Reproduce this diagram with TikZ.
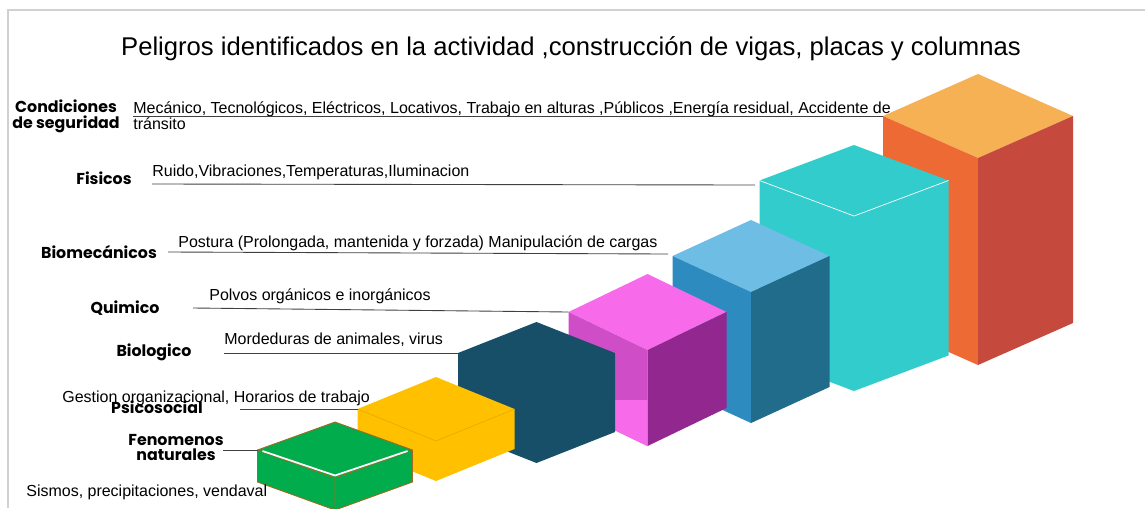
\documentclass[tikz,border=0pt]{standalone}
\usepackage{fontspec}
\usetikzlibrary{calc}
\setmainfont{Liberation Sans}
\newfontfamily\labfont{Poppins}

\definecolor{ortop}{HTML}{F7B155}
\definecolor{orleft}{HTML}{EE6A35}
\definecolor{orright}{HTML}{C5493D}
\definecolor{cyanbox}{HTML}{33CCCC}
\definecolor{bltop}{HTML}{6EBDE4}
\definecolor{blleft}{HTML}{2E8BC0}
\definecolor{blright}{HTML}{216B8B}
\definecolor{pktop}{HTML}{F76BEB}
\definecolor{pkleft}{HTML}{D04DC8}
\definecolor{pkright}{HTML}{92278F}
\definecolor{tealbox}{HTML}{174F69}
\definecolor{yelbox}{HTML}{FFC000}
\definecolor{grbox}{HTML}{00AC4C}
\definecolor{grline}{HTML}{9E6B1F}

% corners of an isometric box: name, centre x, apex y, half width, slope drop, height
\newcommand{\isocoords}[6]{%
  \coordinate (#1-T) at (#2,#3);
  \coordinate (#1-L) at (#2-#4,#3+#5);
  \coordinate (#1-R) at (#2+#4,#3+#5);
  \coordinate (#1-F) at (#2,#3+2*#5);
  \coordinate (#1-Lb) at (#2-#4,#3+#5+#6);
  \coordinate (#1-Rb) at (#2+#4,#3+#5+#6);
  \coordinate (#1-Fb) at (#2,#3+2*#5+#6);
}
% faces: name, top, left, right
\newcommand{\isobox}[4]{%
  \fill[#2] (#1-L) -- (#1-T) -- (#1-R) -- (#1-F) -- cycle;
  \fill[#3] (#1-L) -- (#1-F) -- (#1-Fb) -- (#1-Lb) -- cycle;
  \fill[#4] (#1-F) -- (#1-R) -- (#1-Rb) -- (#1-Fb) -- cycle;
}
% one colour box: name, colour
\newcommand{\isosolid}[2]{%
  \fill[#2] (#1-L) -- (#1-T) -- (#1-R) -- (#1-Rb) -- (#1-Fb) -- (#1-Lb) -- cycle;
}

\tikzset{
  hazard/.style={font=\labfont\bfseries\fontsize{9}{9}\selectfont, align=center, inner sep=0pt},
  detail/.style={font=\fontsize{9.1}{9}\selectfont, anchor=west, align=left, inner sep=0pt},
  leader/.style={draw=black!75, line width=0.5pt},
}

\begin{document}
\begin{tikzpicture}[x=0.02cm, y=-0.02cm]
    \useasboundingbox (0,0) rectangle (1145,508);
    \draw[black!18, line width=0.6pt] (8,508) -- (8,10) -- (1145,10); %frame

    \node[font=\fontsize{14.6}{16}\selectfont] (title) at (571,49) {Peligros identificados en la actividad ,construcción de vigas, placas y columnas};

    %boxes
    \isocoords{seg}{978}{74}{95}{42}{207}
    \isocoords{fis}{854}{145}{94.5}{35.5}{175}
    \isocoords{bio}{751}{220}{78.5}{36}{131}
    \isocoords{qui}{647.5}{274}{79}{38}{96}
    \isocoords{blg}{536.5}{322}{78.5}{31}{79}
    \isocoords{psi}{436}{377}{78.5}{32}{40}
    \isocoords{nat}{335}{422}{77.5}{28}{32}

    \isobox{seg}{ortop}{orleft}{orright}
    \isosolid{fis}{cyanbox}
    \draw[white, line width=0.4pt] (fis-L) -- (fis-F) -- (fis-R);
    \isobox{bio}{bltop}{blleft}{blright}
    \isobox{qui}{pktop}{pkleft}{pkright}
    \begin{scope}
        \clip (0,400) rectangle (1145,508);
        \fill[pktop] (qui-L) -- (qui-F) -- (qui-Fb) -- (qui-Lb) -- cycle;
    \end{scope}
    \isosolid{blg}{tealbox}
    \isosolid{psi}{yelbox}
    \draw[yelbox!88!black, line width=0.3pt] (psi-L) -- (psi-F) -- (psi-R);
    \isosolid{nat}{grbox}
    \draw[grline, line width=0.5pt] (nat-L) -- (nat-T) -- (nat-R) -- (nat-Rb) -- (nat-Fb) -- (nat-Lb) -- cycle;
    \draw[grline, line width=0.5pt] (nat-L) -- (nat-F) -- (nat-R) (nat-F) -- (nat-Fb);
    \draw[white, line width=1pt] ($(nat-L)+(5,1)$) -- ($(nat-F)+(0,-2.5)$) -- ($(nat-R)+(-5,1)$);

    %labels
    \node[hazard] (segl) at (66,116) {Condiciones\\de seguridad};
    \node[hazard] (fisl) at (104,178) {Fisicos};
    \node[hazard] (biol) at (99,252) {Biomecánicos};
    \node[hazard] (quil) at (125,308) {Quimico};
    \node[hazard] (blgl) at (154,352) {Biologico};
    \node[hazard] (psil) at (157,407) {Psicosocial};
    \node[hazard] (natl) at (176,447.5) {Fenomenos\\naturales};

    \node[detail] (segd) at (133,116) {Mecánico, Tecnológicos, Eléctricos, Locativos, Trabajo en alturas ,Públicos ,Energía residual, Accidente de\\tránsito};
    \node[detail] (fisd) at (152,172) {Ruido,Vibraciones,Temperaturas,Iluminacion};
    \node[detail] (biod) at (178,243) {Postura (Prolongada, mantenida y forzada) Manipulación de cargas};
    \node[detail] (quid) at (209,296) {Polvos orgánicos e inorgánicos};
    \node[detail] (blgd) at (224,340) {Mordeduras de animales, virus};
    \node[detail] (psid) at (62,398) {Gestion organizacional, Horarios de trabajo};
    \node[detail] (natd) at (26,492) {Sismos, precipitaciones, vendaval};

    %leaders
    \coordinate (seg-a) at (133,116);
    \coordinate (fis-a) at (152,184);
    \coordinate (fis-b) at (755,185);
    \coordinate (bio-a) at (168,252);
    \coordinate (bio-b) at (668,254);
    \coordinate (qui-a) at (193,308);
    \coordinate (blg-a) at (224,353);
    \coordinate (psi-a) at (240,409);
    \coordinate (nat-a) at (223,450);
    \draw[leader] (seg-a) -- (seg-L);
    \draw[leader] (fis-a) -- (fis-b);
    \draw[leader] (bio-a) -- (bio-b);
    \draw[leader] (qui-a) -- (qui-L);
    \draw[leader] (blg-a) -- (blg-L);
    \draw[leader] (psi-a) -- (psi-L);
    \draw[leader] (nat-a) -- (nat-L);
\end{tikzpicture}
\end{document}
